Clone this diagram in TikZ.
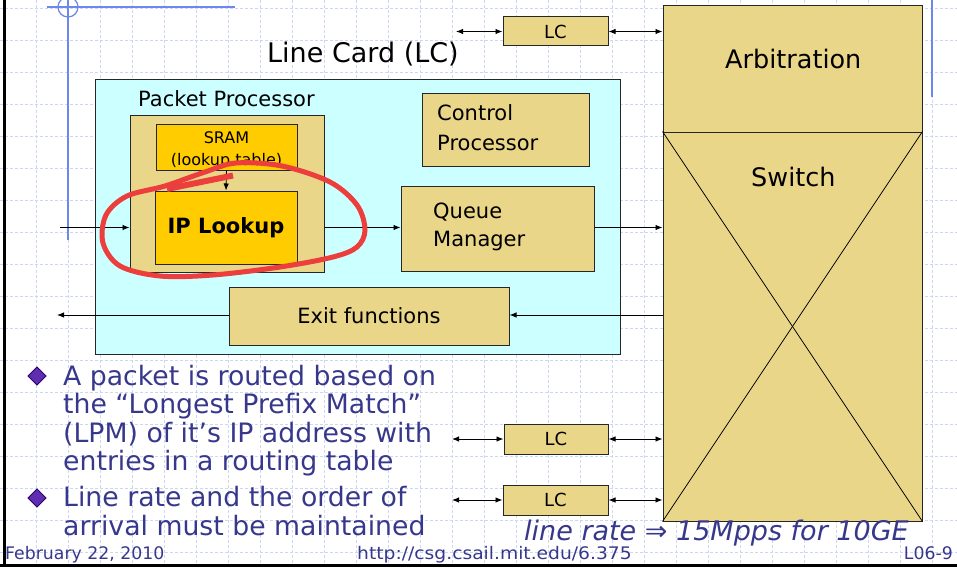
\documentclass[tikz,border=0pt]{standalone}
\usepackage{graphicx}
\usepackage{fontspec}
\setmainfont{DejaVu Sans}
\usetikzlibrary{arrows.meta,calc}
\definecolor{tanfill}{RGB}{233,214,136}
\definecolor{goldfill}{RGB}{255,204,0}
\definecolor{cyanfill}{RGB}{204,255,255}
\definecolor{txtblue}{RGB}{55,55,140}
\definecolor{gridblue}{RGB}{205,215,245}
\definecolor{decoblue}{RGB}{110,135,235}
\definecolor{penred}{RGB}{236,62,60}
\definecolor{bulletfill}{RGB}{95,45,175}
\definecolor{bulletedge}{RGB}{45,0,110}
\newcommand{\fsz}[2]{\fontsize{#1}{#2}\selectfont}
\begin{document}
\begin{tikzpicture}[x=1pt,y=-1pt,
  box/.style={draw=black!85, line width=1pt, inner sep=0pt, rectangle},
  tanbox/.style={box, fill=tanfill},
  goldbox/.style={box, fill=goldfill},
  lbl/.style={inner sep=0pt, anchor=base west, text=black},
  arr/.style={line width=0.9pt, -{Latex[length=7pt,width=5.5pt]}},
  darr/.style={line width=0.9pt, {Latex[length=7pt,width=5.5pt]}-{Latex[length=7pt,width=5.5pt]}},
  gridline/.style={gridblue, line width=0.8pt, dash pattern=on 3pt off 2pt},
  deco/.style={decoblue, line width=1.8pt},
  bullettxt/.style={inner sep=0pt, anchor=base west, text=txtblue},
  bulletmark/.style={fill=bulletfill, draw=bulletedge, line width=1pt}
]
\useasboundingbox (0,0) rectangle (957,567);
\fill[white] (0,0) rectangle (957,567);
\foreach \gx in {36,68,...,932} \draw[gridline] (\gx,0) -- (\gx,567);
\foreach \gy in {8,40,...,552} \draw[gridline] (0,\gy) -- (957,\gy);

% decorations
\draw[deco] (47,7) -- (235,7);
\draw[deco] (68,0) -- (68,240);
\draw[decoblue, line width=1.2pt] (68,7) circle (10pt);
\draw[deco] (932,0) -- (932,97);

% page border
\draw[black, line width=3pt] (4,0) -- (4,567);
\draw[black, line width=3pt] (0,565) -- (957,565);

% switch
\node[tanbox, minimum width=259, minimum height=126] (arb) at (792.5,69) {};
\node[tanbox, minimum width=259, minimum height=389] (swt) at (792.5,326.5) {};
\draw[line width=0.8pt] (swt.north west) -- (swt.south east);
\draw[line width=0.8pt] (swt.north east) -- (swt.south west);
\node[lbl] (arbtxt) at (725,69) {\fsz{25.5}{30}Arbitration};
\node[lbl] (swtxt) at (751,186.7) {\fsz{25.5}{30}Switch};

% top LC
\node[tanbox, minimum width=105, minimum height=29] (lctop) at (555.5,31.5) {\fsz{18}{20}LC};
\coordinate (lctopL) at (456,31.5);
\draw[darr] (lctopL) -- (lctop.west);
\draw[darr] (lctop.east) -- (arb.west |- lctop.east);

\node[lbl] (lclabel) at (267,63) {\fsz{27}{30}Line Card (LC)};

% line card
\node[box, fill=cyanfill, minimum width=525, minimum height=274] (lcbox) at (357.5,217) {};
\node[lbl] (pptxt) at (138,106.7) {\fsz{21}{25}Packet Processor};
\node[tanbox, minimum width=194, minimum height=157] (pp) at (227,193.5) {};
\node[goldbox, minimum width=141, minimum height=46] (sram) at (226.5,147) {};
\node[inner sep=0pt, anchor=base, align=center, font=\fsz{16}{21.7}] (sramtxt) at (226.5,165) {SRAM\\(lookup table)};
\node[goldbox, minimum width=142, minimum height=73] (ipl) at (226,227.5) {\fsz{21}{25}\bfseries IP Lookup};
\draw[arr] (sram.south) -- (ipl.north);

\node[tanbox, minimum width=167, minimum height=72] (cp) at (505.5,130) {};
\node[lbl, align=left, font=\fsz{21}{30}] (cptxt) at (437,150.7) {Control\\Processor};
\node[tanbox, minimum width=193, minimum height=85] (qm) at (497.5,228.5) {};
\node[lbl, align=left, font=\fsz{21}{28.5}] (qmtxt) at (433,246.7) {Queue\\Manager};
\node[tanbox, minimum width=280, minimum height=58] (exitf) at (369,316) {\fsz{21}{25}Exit functions};

\coordinate (inL) at (60,227.5);
\coordinate (outL) at (57,315);
\draw[arr] (inL) -- (pp.west |- inL);
\draw[arr] (pp.east |- inL) -- (qm.west |- inL);
\draw[arr] (qm.east |- inL) -- (swt.west |- inL);
\draw[arr] (swt.west |- outL) -- (exitf.east |- outL);
\draw[arr] (exitf.west |- outL) -- (outL);

% red marking
\draw[penred, line width=5pt, line cap=round] plot[smooth cycle, tension=0.55] coordinates {
  (236,163) (282,166) (330,182) (357,205) (365,230) (357,247) (333,257)
  (280,267) (213,275) (160,276) (120,266) (103,243) (106,215) (127,196)
  (165,186) (205,172)};
\draw[penred, line width=6pt] (167,189) -- (233,175.5);

% lower LCs
\node[tanbox, minimum width=104, minimum height=30] (lc2) at (556,439) {\fsz{18}{20}LC};
\node[tanbox, minimum width=105, minimum height=30] (lc3) at (555.5,500) {\fsz{18}{20}LC};
\coordinate (lc2L) at (452,439);
\coordinate (lc3L) at (452,500);
\draw[darr] (lc2L) -- (lc2.west);
\draw[darr] (lc2.east) -- (swt.west |- lc2.east);
\draw[darr] (lc3L) -- (lc3.west);
\draw[darr] (lc3.east) -- (swt.west |- lc3.east);

% bullets
\filldraw[bulletmark] (37,367) -- (46,376) -- (37,385) -- (28,376) -- cycle;
\filldraw[bulletmark] (37,489) -- (46,498) -- (37,507) -- (28,498) -- cycle;
\node[bullettxt] (b1) at (63,385) {\fsz{26.7}{28.5}\vtop{\hbox{A packet is routed based on}\hbox{the “Longest Prefix Match”}\hbox{(LPM) of it’s IP address with}\hbox{entries in a routing table}}};
\node[bullettxt] (b2) at (63,506.5) {\fsz{26.7}{28.5}\vtop{\hbox{Line rate and the order of}\hbox{arrival must be maintained}}};

\node[bullettxt] (rate) at (524,540) {\fsz{27}{30}\itshape line rate ⇒ 15Mpps for 10GE};

% footer
\node[bullettxt] (date) at (5,559) {\fsz{17.3}{20}February 22, 2010};
\node[bullettxt] (url) at (357,559) {\fsz{17.3}{20}\scalebox{1.08}[1]{http://csg.csail.mit.edu/6.375}};
\node[inner sep=0pt, anchor=base east, text=txtblue] (pg) at (953,559) {\fsz{17.3}{20}L06-9};
\end{tikzpicture}
\end{document}
